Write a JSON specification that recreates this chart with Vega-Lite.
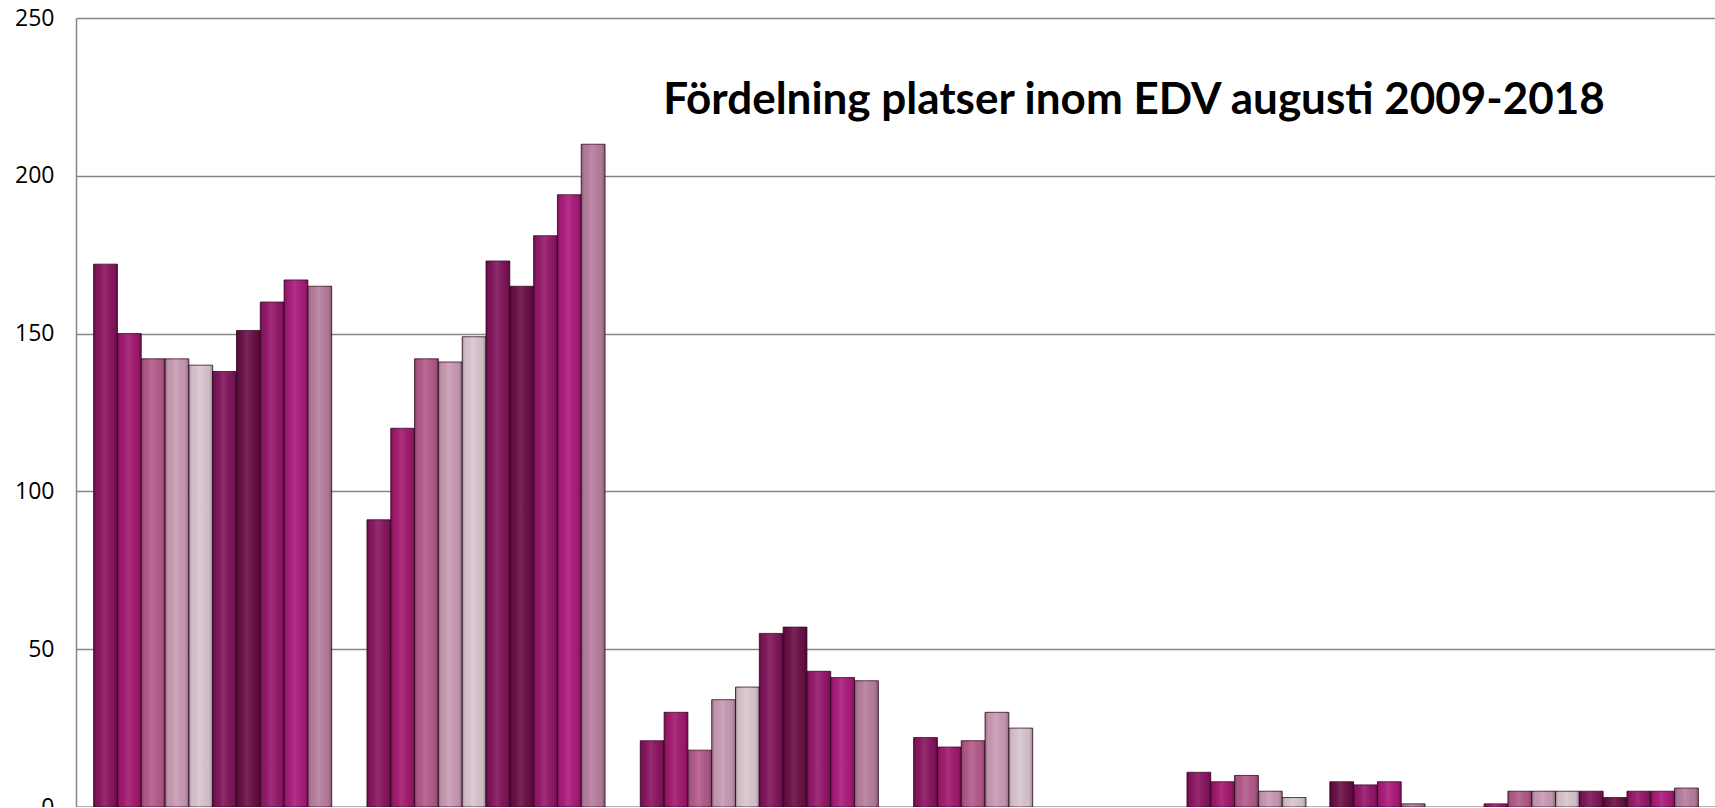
{
  "$schema": "https://vega.github.io/schema/vega-lite/v6.json",
  "autosize": {"type": "none"},
  "padding": {"left": 76, "top": 18, "right": 0, "bottom": 0},
  "width": 1640,
  "height": 789,
  "background": "white",
  "title": {
    "text": "Fördelning platser inom EDV augusti 2009-2018",
    "font": "Lato",
    "fontWeight": "bold",
    "fontSize": 44,
    "color": "#000000",
    "anchor": "middle",
    "baseline": "alphabetic",
    "offset": 0,
    "dx": 238,
    "dy": 151
  },
  "config": {
    "view": {"stroke": null},
    "axis": {"labelFont": "Open Sans", "labelFontSize": 23, "labelColor": "#000000"}
  },
  "data": {
    "values": [
      {"kategori": "Grupp 1", "ar": "2009", "antal": 172},
      {"kategori": "Grupp 1", "ar": "2010", "antal": 150},
      {"kategori": "Grupp 1", "ar": "2011", "antal": 142},
      {"kategori": "Grupp 1", "ar": "2012", "antal": 142},
      {"kategori": "Grupp 1", "ar": "2013", "antal": 140},
      {"kategori": "Grupp 1", "ar": "2014", "antal": 138},
      {"kategori": "Grupp 1", "ar": "2015", "antal": 151},
      {"kategori": "Grupp 1", "ar": "2016", "antal": 160},
      {"kategori": "Grupp 1", "ar": "2017", "antal": 167},
      {"kategori": "Grupp 1", "ar": "2018", "antal": 165},
      {"kategori": "Grupp 2", "ar": "2009", "antal": 91},
      {"kategori": "Grupp 2", "ar": "2010", "antal": 120},
      {"kategori": "Grupp 2", "ar": "2011", "antal": 142},
      {"kategori": "Grupp 2", "ar": "2012", "antal": 141},
      {"kategori": "Grupp 2", "ar": "2013", "antal": 149},
      {"kategori": "Grupp 2", "ar": "2014", "antal": 173},
      {"kategori": "Grupp 2", "ar": "2015", "antal": 165},
      {"kategori": "Grupp 2", "ar": "2016", "antal": 181},
      {"kategori": "Grupp 2", "ar": "2017", "antal": 194},
      {"kategori": "Grupp 2", "ar": "2018", "antal": 210},
      {"kategori": "Grupp 3", "ar": "2009", "antal": 21},
      {"kategori": "Grupp 3", "ar": "2010", "antal": 30},
      {"kategori": "Grupp 3", "ar": "2011", "antal": 18},
      {"kategori": "Grupp 3", "ar": "2012", "antal": 34},
      {"kategori": "Grupp 3", "ar": "2013", "antal": 38},
      {"kategori": "Grupp 3", "ar": "2014", "antal": 55},
      {"kategori": "Grupp 3", "ar": "2015", "antal": 57},
      {"kategori": "Grupp 3", "ar": "2016", "antal": 43},
      {"kategori": "Grupp 3", "ar": "2017", "antal": 41},
      {"kategori": "Grupp 3", "ar": "2018", "antal": 40},
      {"kategori": "Grupp 4", "ar": "2009", "antal": 22},
      {"kategori": "Grupp 4", "ar": "2010", "antal": 19},
      {"kategori": "Grupp 4", "ar": "2011", "antal": 21},
      {"kategori": "Grupp 4", "ar": "2012", "antal": 30},
      {"kategori": "Grupp 4", "ar": "2013", "antal": 25},
      {"kategori": "Grupp 4", "ar": "2014", "antal": 0},
      {"kategori": "Grupp 4", "ar": "2015", "antal": 0},
      {"kategori": "Grupp 4", "ar": "2016", "antal": 0},
      {"kategori": "Grupp 4", "ar": "2017", "antal": 0},
      {"kategori": "Grupp 4", "ar": "2018", "antal": 0},
      {"kategori": "Grupp 5", "ar": "2009", "antal": 11},
      {"kategori": "Grupp 5", "ar": "2010", "antal": 8},
      {"kategori": "Grupp 5", "ar": "2011", "antal": 10},
      {"kategori": "Grupp 5", "ar": "2012", "antal": 5},
      {"kategori": "Grupp 5", "ar": "2013", "antal": 3},
      {"kategori": "Grupp 5", "ar": "2014", "antal": 0},
      {"kategori": "Grupp 5", "ar": "2015", "antal": 8},
      {"kategori": "Grupp 5", "ar": "2016", "antal": 7},
      {"kategori": "Grupp 5", "ar": "2017", "antal": 8},
      {"kategori": "Grupp 5", "ar": "2018", "antal": 1},
      {"kategori": "Grupp 6", "ar": "2009", "antal": 0},
      {"kategori": "Grupp 6", "ar": "2010", "antal": 1},
      {"kategori": "Grupp 6", "ar": "2011", "antal": 5},
      {"kategori": "Grupp 6", "ar": "2012", "antal": 5},
      {"kategori": "Grupp 6", "ar": "2013", "antal": 5},
      {"kategori": "Grupp 6", "ar": "2014", "antal": 5},
      {"kategori": "Grupp 6", "ar": "2015", "antal": 3},
      {"kategori": "Grupp 6", "ar": "2016", "antal": 5},
      {"kategori": "Grupp 6", "ar": "2017", "antal": 5},
      {"kategori": "Grupp 6", "ar": "2018", "antal": 6}
    ]
  },
  "encoding": {
    "x": {
      "field": "kategori",
      "type": "nominal",
      "scale": {"paddingInner": 0.129, "paddingOuter": 0.0645},
      "axis": {"labels": false, "ticks": false, "title": null, "domainColor": "#868686", "domainWidth": 2}
    },
    "xOffset": {"field": "ar", "type": "nominal", "scale": {"padding": 0}},
    "y": {
      "field": "antal",
      "type": "quantitative",
      "scale": {"domain": [0, 250], "nice": false},
      "axis": {
        "title": null,
        "values": [0, 50, 100, 150, 200, 250],
        "ticks": false,
        "labelPadding": 22,
        "gridColor": "#868686",
        "gridWidth": 1.5,
        "domainColor": "#868686",
        "domainWidth": 1.5
      }
    }
  },
  "layer": [
    {
      "transform": [{"filter": "datum.antal > 0"}],
      "mark": {"type": "bar", "stroke": "#3a0a26", "strokeWidth": 1, "strokeOpacity": 0.8},
      "encoding": {
        "color": {
          "field": "ar",
          "type": "nominal",
          "legend": null,
          "scale": {
            "domain": ["2009", "2010", "2011", "2012", "2013", "2014", "2015", "2016", "2017", "2018"],
            "range": ["#8a1460", "#a3186f", "#b45a8a", "#c99bb4", "#dac6d0", "#80145a", "#6a0e45", "#95176a", "#ab1a7a", "#b87e9e"]
          }
        }
      }
    },
    {
      "transform": [{"filter": "datum.antal > 0"}],
      "mark": {
        "type": "bar",
        "fill": {
          "gradient": "linear",
          "x1": 0, "y1": 0, "x2": 1, "y2": 0,
          "stops": [
            {"offset": 0, "color": "rgba(0,0,0,0.28)"},
            {"offset": 0.12, "color": "rgba(0,0,0,0.05)"},
            {"offset": 0.45, "color": "rgba(255,255,255,0.10)"},
            {"offset": 0.85, "color": "rgba(0,0,0,0.05)"},
            {"offset": 1, "color": "rgba(0,0,0,0.30)"}
          ]
        }
      },
      "encoding": {}
    }
  ]
}
